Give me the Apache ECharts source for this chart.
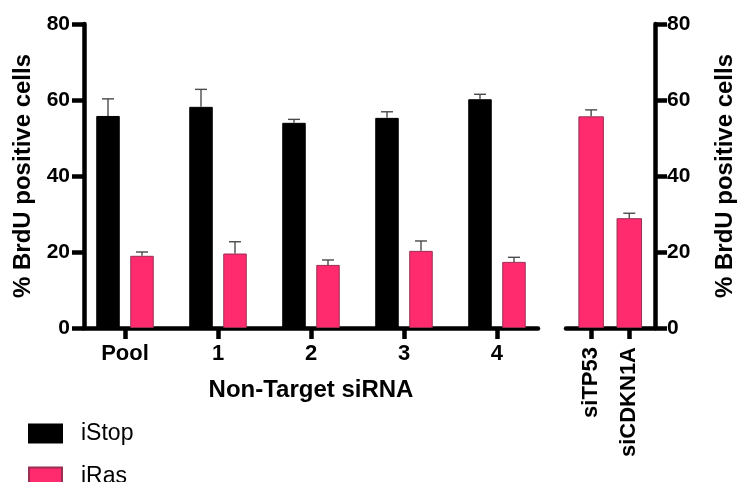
<!DOCTYPE html>
<html>
<head>
<meta charset="utf-8">
<script src="https://cdn.jsdelivr.net/npm/echarts@6/dist/echarts.min.js"></script>
<style>
  html, body { margin: 0; padding: 0; background: #fff; }
  #chart { width: 738px; height: 482px; }
</style>
</head>
<body>
<div id="chart"></div>
<script>
// Non-targeting siRNA groups
const categories = ['Pool', '1', '2', '3', '4'];
const iStop = [55.8, 58.2, 54.0, 55.3, 60.2];
const iStopErr = [4.5, 4.6, 0.9, 1.6, 1.3];
const iRas = [19.0, 19.6, 16.6, 20.3, 17.4];
const iRasErr = [1.0, 3.1, 1.3, 2.6, 1.2];

// Targeted knockdowns (iRas cells)
const knockdowns = ['siTP53', 'siCDKN1A'];
const knockdownValues = [55.7, 28.9];
const knockdownErr = [1.7, 1.3];

const yTicks = [0, 20, 40, 60, 80];

const FONT = "'Liberation Sans', Arial, Helvetica, sans-serif";
const PINK = '#FF2B6E';
const PINK_EDGE = '#9a2f52';
const BAR_W = 23.5;
const BAR_GAP = 10.5;
const BAR_W2 = 25.5;

function errorBars(xAxisIndex, yAxisIndex, xs, vals, errs, shift) {
  return {
    type: 'custom',
    xAxisIndex, yAxisIndex,
    silent: true,
    z: 5,
    data: xs.map((x, i) => [x, vals[i], vals[i] + errs[i]]),
    renderItem: function (params, api) {
      const base = api.coord([api.value(0), api.value(1)]);
      const top = api.coord([api.value(0), api.value(2)]);
      const cx = base[0] + shift;
      const cap = 6;
      const style = { stroke: '#4a4a4a', lineWidth: 1.4 };
      return {
        type: 'group',
        children: [
          { type: 'line', shape: { x1: cx, y1: base[1], x2: cx, y2: top[1] }, style },
          { type: 'line', shape: { x1: cx - cap, y1: top[1], x2: cx + cap, y2: top[1] }, style }
        ]
      };
    }
  };
}

const idx = categories.map((_, i) => i);
const kdIdx = knockdowns.map((_, i) => i + 1);
const pairShift = (BAR_W + BAR_GAP) / 2;

const axisLineStyle = { color: '#000', width: 4.5 };
const tickLabel = { color: '#000', fontFamily: FONT, fontWeight: 'bold', fontSize: 21 };
const legendText = { color: '#000', fontFamily: FONT, fontSize: 23, padding: [0, 0, 0, 14], lineHeight: 18 };

function legendItem(name, top) {
  return {
    orient: 'vertical',
    left: 28,
    top: top,
    padding: 0,
    itemWidth: 33,
    itemHeight: 18,
    data: [name],
    icon: 'rect',
    textStyle: legendText
  };
}

const option = {
  animation: false,
  backgroundColor: '#fff',
  textStyle: { fontFamily: FONT },
  legend: [legendItem('iStop', 422), legendItem('iRas', 465)],
  grid: [
    { left: 84, top: 24, width: 454, height: 304 },
    { left: 566, top: 24, width: 91, height: 304 }
  ],
  xAxis: [
    {
      type: 'value', gridIndex: 0,
      min: -0.441, max: 4.441,
      splitLine: { show: false },
      axisLine: { onZero: false, lineStyle: axisLineStyle },
      axisTick: { customValues: idx, length: 11, lineStyle: { width: 4.5, color: '#000' } },
      axisLabel: { customValues: idx, margin: 15, fontSize: 22, color: '#000', fontFamily: FONT, fontWeight: 'bold', formatter: v => categories[Math.round(v)] },
      name: 'Non-Target siRNA',
      nameLocation: 'middle',
      nameGap: 50,
      nameTextStyle: { color: '#000', fontFamily: FONT, fontWeight: 'bold', fontSize: 24 }
    },
    {
      type: 'value', gridIndex: 1,
      min: 0.341, max: 2.674,
      splitLine: { show: false },
      axisLine: { onZero: false, lineStyle: axisLineStyle },
      axisTick: { customValues: kdIdx, length: 11, lineStyle: { width: 4.5, color: '#000' } },
      axisLabel: { customValues: kdIdx, rotate: 90, margin: 19, color: '#000', fontFamily: FONT, fontWeight: 'bold', fontSize: 22, formatter: v => knockdowns[Math.round(v) - 1] }
    }
  ],
  yAxis: [
    {
      type: 'value', gridIndex: 0, position: 'left',
      min: yTicks[0], max: yTicks[yTicks.length - 1], interval: 20,
      splitLine: { show: false },
      axisLine: { show: true, onZero: false, lineStyle: axisLineStyle },
      axisTick: { show: true, length: 12, lineStyle: { width: 4.5, color: '#000' } },
      axisLabel: Object.assign({ margin: 14 }, tickLabel),
      name: '% BrdU positive cells',
      nameLocation: 'middle',
      nameGap: 49,
      nameTextStyle: { color: '#000', fontFamily: FONT, fontWeight: 'bold', fontSize: 24 }
    },
    {
      type: 'value', gridIndex: 1, position: 'right',
      min: yTicks[0], max: yTicks[yTicks.length - 1], interval: 20,
      splitLine: { show: false },
      axisLine: { show: true, onZero: false, lineStyle: axisLineStyle },
      axisTick: { show: true, length: 12, lineStyle: { width: 4.5, color: '#000' } },
      axisLabel: Object.assign({ margin: 12 }, tickLabel),
      name: '% BrdU positive cells',
      nameLocation: 'middle',
      nameGap: 58,
      nameTextStyle: { color: '#000', fontFamily: FONT, fontWeight: 'bold', fontSize: 24 }
    }
  ],
  series: [
    {
      name: 'iStop', type: 'bar', xAxisIndex: 0, yAxisIndex: 0,
      barWidth: BAR_W, barGap: (BAR_GAP / BAR_W * 100).toFixed(1) + '%',
      itemStyle: { color: '#000', borderColor: '#000', borderWidth: 1 },
      data: idx.map(i => [i, iStop[i]])
    },
    {
      name: 'iRas', type: 'bar', xAxisIndex: 0, yAxisIndex: 0,
      barWidth: BAR_W, barGap: (BAR_GAP / BAR_W * 100).toFixed(1) + '%',
      itemStyle: { color: PINK, borderColor: PINK_EDGE, borderWidth: 1 },
      data: idx.map(i => [i, iRas[i]])
    },
    {
      name: 'iRas', type: 'bar', xAxisIndex: 1, yAxisIndex: 1,
      barWidth: BAR_W2,
      itemStyle: { color: PINK, borderColor: PINK_EDGE, borderWidth: 1 },
      data: kdIdx.map((x, i) => [x, knockdownValues[i]])
    },
    errorBars(0, 0, idx, iStop, iStopErr, -pairShift),
    errorBars(0, 0, idx, iRas, iRasErr, pairShift),
    errorBars(1, 1, kdIdx, knockdownValues, knockdownErr, 0)
  ]
};

echarts.init(document.getElementById('chart'), null, { renderer: 'canvas' }).setOption(option);
</script>
</body>
</html>
